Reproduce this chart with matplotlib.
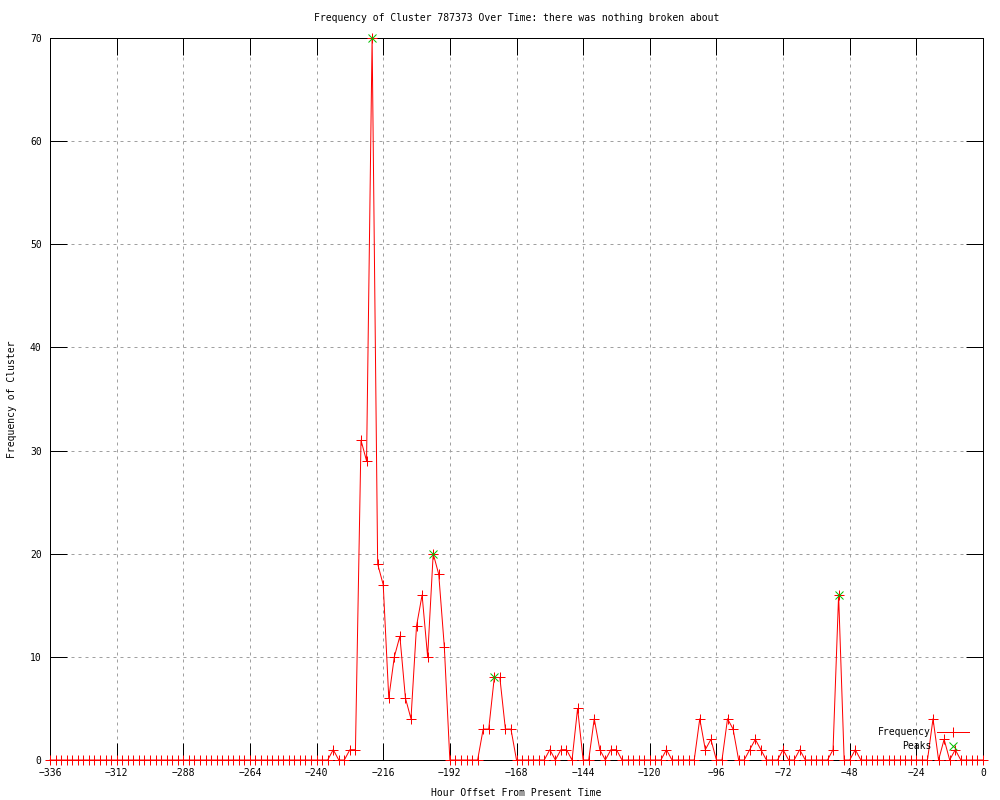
import numpy as np
import matplotlib
matplotlib.use("Agg")
import matplotlib.pyplot as plt
from matplotlib.lines import Line2D

# hours before now, one sample every 2 hours
hours = np.arange(-336, 1, 2)

# frequency per sample, one row per 24 hours (-336 .. -2), then hour 0
freq = [
    0, 0, 0, 0, 0, 0, 0, 0, 0, 0, 0, 0,
    0, 0, 0, 0, 0, 0, 0, 0, 0, 0, 0, 0,
    0, 0, 0, 0, 0, 0, 0, 0, 0, 0, 0, 0,
    0, 0, 0, 0, 0, 0, 0, 0, 0, 0, 0, 0,
    0, 0, 0, 1, 0, 0, 1, 1, 31, 29, 70, 19,
    17, 6, 10, 12, 6, 4, 13, 16, 10, 20, 18, 11,
    0, 0, 0, 0, 0, 0, 3, 3, 8, 8, 3, 3,
    0, 0, 0, 0, 0, 0, 1, 0, 1, 1, 0, 5,
    0, 0, 4, 1, 0, 1, 1, 0, 0, 0, 0, 0,
    0, 0, 0, 1, 0, 0, 0, 0, 0, 4, 1, 2,
    0, 0, 4, 3, 0, 0, 1, 2, 1, 0, 0, 0,
    1, 0, 0, 1, 0, 0, 0, 0, 0, 1, 16, 0,
    0, 1, 0, 0, 0, 0, 0, 0, 0, 0, 0, 0,
    0, 0, 0, 4, 0, 2, 0, 1, 0, 0, 0, 0,
    0,
]

peak_hours = [-220, -198, -176, -52]
peak_vals = [70, 20, 8, 16]

xticks = list(range(-336, 1, 24))
yticks = list(range(0, 71, 10))

title = "Frequency of Cluster 787373 Over Time: there was nothing broken about"

plt.rcParams['font.family'] = ['DejaVu Sans Mono']
fs = 7.0
px = 0.72  # one pixel in points at dpi 100

fig = plt.figure(figsize=(10, 8), dpi=100)
ax = fig.add_axes([0.05, 0.05, 0.933, 0.9025])

ax.plot(hours, freq, color='red', lw=px, marker='+', ms=6.5, mew=px,
        zorder=5, clip_on=False)
ax.plot(peak_hours, peak_vals, ls='none', color='#00c000', marker='x',
        ms=5.5, mew=px, zorder=6, clip_on=False)

ax.set_xlim(-336, 0)
ax.set_ylim(0, 70)
ax.set_xticks(xticks)
ax.set_yticks(yticks)
ax.tick_params(direction='in', length=12, width=px, top=True, right=True,
               labelsize=fs, pad=6, colors='black')
ax.grid(True, color='#a0a0a0', lw=px, ls=(0, (3, 4)))
ax.set_axisbelow(True)
for s in ax.spines.values():
    s.set_linewidth(px)

ax.set_title(title, fontsize=fs, pad=12)
ax.set_xlabel("Hour Offset From Present Time", fontsize=fs, labelpad=7)
ax.set_ylabel("Frequency of Cluster", fontsize=fs, labelpad=9)

handles = [
    Line2D([], [], color='red', lw=px, marker='+', ms=6.5, mew=px),
    Line2D([], [], ls='none', color='#00c000', marker='x', ms=5.5, mew=px),
]
ax.legend(handles, ["Frequency", "Peaks"], loc='lower right',
          bbox_to_anchor=(0.985, 0.012), frameon=False, markerfirst=False,
          numpoints=1, fontsize=fs, handlelength=3.3, handletextpad=0.6,
          labelspacing=0.4, borderpad=0, borderaxespad=0)

fig.savefig("out.png", dpi=100)
